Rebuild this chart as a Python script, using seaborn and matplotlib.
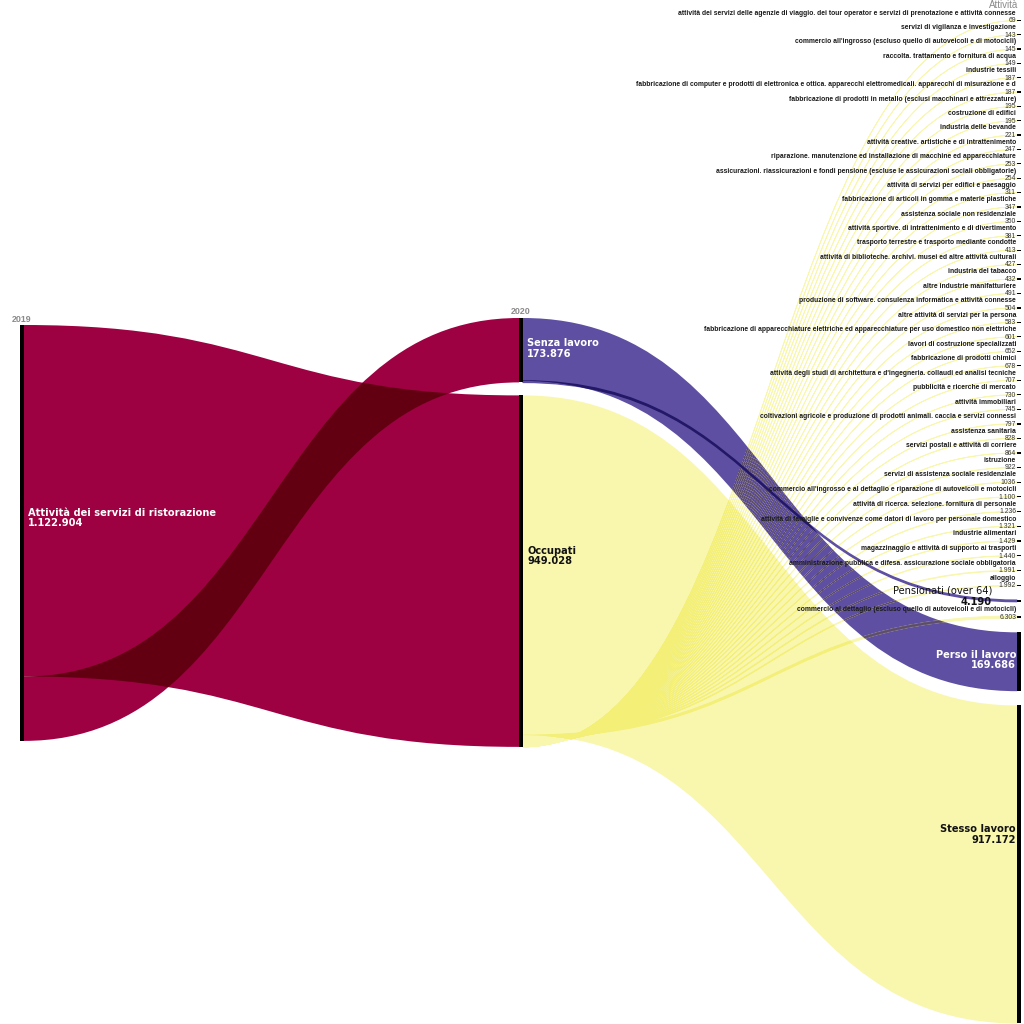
import numpy as np
import pandas as pd
import matplotlib
matplotlib.use("Agg")
import matplotlib.pyplot as plt
from matplotlib.path import Path
from matplotlib.patches import PathPatch, Rectangle
from matplotlib.colors import to_rgb
import seaborn as sns

# ------------------------------------------------------------------ data
dimension_labels = ["2019", "2020", "Attività"]

source_label = "Attività dei servizi di ristorazione"
source_value = 1122904
source_value_text = "1.122.904"

status_labels = ["Senza lavoro", "Occupati"]
status_values = [173876, 949028]
status_value_text = ["173.876", "949.028"]

activity_labels = [
    "attività dei servizi delle agenzie di viaggio. dei tour operator e servizi di prenotazione e attività connesse",
    "servizi di vigilanza e investigazione",
    "commercio all'ingrosso (escluso quello di autoveicoli e di motocicli)",
    "raccolta. trattamento e fornitura di acqua",
    "industrie tessili",
    "fabbricazione di computer e prodotti di elettronica e ottica. apparecchi elettromedicali. apparecchi di misurazione e d",
    "fabbricazione di prodotti in metallo (esclusi macchinari e attrezzature)",
    "costruzione di edifici",
    "industria delle bevande",
    "attività creative. artistiche e di intrattenimento",
    "riparazione. manutenzione ed installazione di macchine ed apparecchiature",
    "assicurazioni. riassicurazioni e fondi pensione (escluse le assicurazioni sociali obbligatorie)",
    "attività di servizi per edifici e paesaggio",
    "fabbricazione di articoli in gomma e materie plastiche",
    "assistenza sociale non residenziale",
    "attività sportive. di intrattenimento e di divertimento",
    "trasporto terrestre e trasporto mediante condotte",
    "attività di biblioteche. archivi. musei ed altre attività culturali",
    "industria del tabacco",
    "altre industrie manifatturiere",
    "produzione di software. consulenza informatica e attività connesse",
    "altre attività di servizi per la persona",
    "fabbricazione di apparecchiature elettriche ed apparecchiature per uso domestico non elettriche",
    "lavori di costruzione specializzati",
    "fabbricazione di prodotti chimici",
    "attività degli studi di architettura e d'ingegneria. collaudi ed analisi tecniche",
    "pubblicità e ricerche di mercato",
    "attività immobiliari",
    "coltivazioni agricole e produzione di prodotti animali. caccia e servizi connessi",
    "assistenza sanitaria",
    "servizi postali e attività di corriere",
    "istruzione",
    "servizi di assistenza sociale residenziale",
    "commercio all'ingrosso e al dettaglio e riparazione di autoveicoli e motocicli",
    "attività di ricerca. selezione. fornitura di personale",
    "attività di famiglie e convivenze come datori di lavoro per personale domestico",
    "industrie alimentari",
    "magazzinaggio e attività di supporto ai trasporti",
    "amministrazione pubblica e difesa. assicurazione sociale obbligatoria",
    "alloggio",
    "Pensionati (over 64)",
    "commercio al dettaglio (escluso quello di autoveicoli e di motocicli)",
    "Perso il lavoro",
    "Stesso lavoro",
]
activity_values = [
    69, 143, 145, 149, 187, 187, 195, 195, 221, 247, 253, 254, 311, 347, 350,
    381, 413, 427, 432, 491, 504, 583, 601, 652, 678, 707, 730, 745, 797, 828,
    864, 922, 1036, 1100, 1236, 1321, 1429, 1440, 1991, 1992, 4190, 6303,
    169686, 917172,
]
activity_value_text = [
    "69", "143", "145", "149", "187", "187", "195", "195", "221", "247", "253",
    "254", "311", "347", "350", "381", "413", "427", "432", "491", "504", "583",
    "601", "652", "678", "707", "730", "745", "797", "828", "864", "922", "1036",
    "1.100", "1.236", "1.321", "1.429", "1.440", "1.991", "1.992", "4.190",
    "6.303", "169.686", "917.172",
]
activity_status = ["Occupati"] * 40 + ["Senza lavoro", "Occupati", "Senza lavoro", "Occupati"]

acts = pd.DataFrame({"label": activity_labels, "value": activity_values,
                     "text": activity_value_text, "status": activity_status})

# ------------------------------------------------------------------ style
sns.set_theme(style="white")
spectral = sns.color_palette("Spectral", as_cmap=True)
C_SRC = spectral(0.0)          # crimson
C_SENZA = spectral(1.0)        # purple
C_OCC = "#f9f7ae"              # pale yellow
status_color = {"Senza lavoro": C_SENZA, "Occupati": C_OCC}


def mul(*cols):
    out = np.ones(3)
    for c in cols:
        out = out * np.array(to_rgb(c))
    return tuple(out)


W = H = 1024
fig = plt.figure(figsize=(10.24, 10.24), dpi=100)
ax = fig.add_axes([0, 0, 1, 1])
ax.set_xlim(0, W)
ax.set_ylim(H, 0)
ax.axis("off")

# ------------------------------------------------------------------ layout
BAR_W = 4.0
col_x = [20.0, 519.0, 1017.0]
scale12 = 2700.0          # people per unit (columns 1-2)
col1_top = 325.0
col2_top = 318.0
col2_gap = 13.0
scale3 = 2884.0
col3_top = 20.5
col3_gap = 14.27

# column 1
c1_y0 = col1_top
c1_y1 = col1_top + source_value / scale12

# column 2
c2 = {}
y = col2_top
for lab, v in zip(status_labels, status_values):
    c2[lab] = [y, y + v / scale12]
    y += v / scale12 + col2_gap

# column 3
c3 = []
y = col3_top
for v in acts["value"]:
    h = v / scale3
    c3.append([y, y + h])
    y += h + col3_gap
acts["y0"] = [a for a, b in c3]
acts["y1"] = [b for a, b in c3]


def ribbon(x0, a0, b0, x1, a1, b1):
    xm = (x0 + x1) / 2
    verts = [(x0, a0), (xm, a0), (xm, a1), (x1, a1), (x1, b1),
             (xm, b1), (xm, b0), (x0, b0), (x0, a0)]
    codes = [Path.MOVETO, Path.CURVE4, Path.CURVE4, Path.CURVE4, Path.LINETO,
             Path.CURVE4, Path.CURVE4, Path.CURVE4, Path.CLOSEPOLY]
    return Path(verts, codes)


def add(path, color, lw=0.0, clip=None, z=1):
    p = PathPatch(path, facecolor=color, edgecolor=color if lw else "none",
                  lw=lw, zorder=z)
    ax.add_patch(p)
    if clip is not None:
        p.set_clip_path(clip)
    return p

# ------------------------------------------------------------------ links 2019 -> 2020
order12 = ["Occupati", "Senza lavoro"]
y = c1_y0
paths12 = {}
for lab in order12:
    v = status_values[status_labels.index(lab)]
    h = v / scale12
    t0, t1 = c2[lab]
    paths12[lab] = ribbon(col_x[0] + BAR_W, y, y + h, col_x[1], t0, t1)
    y += h
pA = add(paths12["Occupati"], C_SRC)
pB = add(paths12["Senza lavoro"], C_SRC)
add(paths12["Senza lavoro"], mul(C_SRC, C_SRC), clip=pA, z=1.5)

# ------------------------------------------------------------------ links 2020 -> Attività
links = {}
for st in status_labels:
    sub = acts[acts["status"] == st].sort_values("value", ascending=False, kind="stable")
    y = c2[st][0]
    for idx, r in sub.iterrows():
        h = r["value"] / scale12
        links[idx] = ribbon(col_x[1] + BAR_W, y, y + h, col_x[2], r["y0"], r["y1"])
        y += h

i_stesso = activity_labels.index("Stesso lavoro")
i_perso = activity_labels.index("Perso il lavoro")
i_pens = activity_labels.index("Pensionati (over 64)")

p_stesso = add(links[i_stesso], C_OCC, z=2)
p_perso = add(links[i_perso], C_SENZA, z=2.1)
add(links[i_perso], mul(C_SENZA, C_OCC), clip=p_stesso, z=2.2)

for idx in links:
    if idx in (i_stesso, i_perso):
        continue
    col = status_color[acts.loc[idx, "status"]]
    pens = idx == i_pens
    lw = 1.0 if pens else 0.6
    zb = 3.4 if pens else 3.0
    add(links[idx], col, lw=lw, z=zb)
    add(links[idx], mul(col, C_OCC), lw=lw, clip=p_stesso, z=zb + 0.1)
    add(links[idx], mul(col, C_SENZA), lw=lw, clip=p_perso, z=zb + 0.2)

# ------------------------------------------------------------------ node bars
ax.add_patch(Rectangle((col_x[0], c1_y0), BAR_W, c1_y1 - c1_y0, color="black", lw=0, zorder=5))
for lab in status_labels:
    a, b = c2[lab]
    ax.add_patch(Rectangle((col_x[1], a), BAR_W, b - a, color="black", lw=0, zorder=5))
for _, r in acts.iterrows():
    h = max(r["y1"] - r["y0"], 1.3)
    yc = (r["y0"] + r["y1"]) / 2
    ax.add_patch(Rectangle((col_x[2], yc - h / 2), BAR_W, h, color="black", lw=0, zorder=5))

# ------------------------------------------------------------------ text
BIG = dict(family="DejaVu Sans", fontweight="bold", fontsize=7.1, linespacing=1.05)
HDR = dict(family="Liberation Sans", fontweight="bold", fontsize=6.4, color="#8a8a8a")

ax.text(col_x[0] + 2, col1_top - 1.5, dimension_labels[0], ha="center", va="bottom", **HDR)
ax.text(col_x[1] + 2, col2_top - 1.5, dimension_labels[1], ha="center", va="bottom", **HDR)
ax.text(col_x[2] + 1, 0.5, dimension_labels[2], ha="right", va="top",
        family="Liberation Sans", fontsize=7.0, color="#8a8a8a")

ax.text(col_x[0] + BAR_W + 4, (c1_y0 + c1_y1) / 2 - 15,
        f"{source_label}\n{source_value_text}", ha="left", va="center",
        color="white", zorder=6, **BIG)

status_offset = {"Senza lavoro": -1.5, "Occupati": -15}
status_tcolor = {"Senza lavoro": "white", "Occupati": "#111111"}
for lab, txt in zip(status_labels, status_value_text):
    a, b = c2[lab]
    ax.text(col_x[1] + BAR_W + 4, (a + b) / 2 + status_offset[lab], f"{lab}\n{txt}",
            ha="left", va="center", color=status_tcolor[lab], zorder=6, **BIG)

big_offset = {"Perso il lavoro": -2, "Stesso lavoro": -30}
big_tcolor = {"Perso il lavoro": "white", "Stesso lavoro": "#111111"}
xr = col_x[2] - 1
for _, r in acts.iterrows():
    yc = (r["y0"] + r["y1"]) / 2
    lab = r["label"]
    if lab in big_offset:
        ax.text(xr, yc + big_offset[lab], f"{lab}\n{r['text']}", ha="right", va="center",
                color=big_tcolor[lab], zorder=6, **BIG)
    elif lab == "Pensionati (over 64)":
        ax.text(xr - 24, yc - 10, lab, ha="right", va="center", family="DejaVu Sans",
                fontsize=7.1, color="#111111", zorder=6)
        ax.text(xr - 24, yc + 1, r["text"], ha="right", va="center", family="DejaVu Sans",
                fontweight="bold", fontsize=7.1, color="#111111", zorder=6)
    else:
        ax.text(xr, yc - 7.2, lab, ha="right", va="center", family="Liberation Sans",
                fontweight="bold", fontsize=4.9, color="#1a1a1a", zorder=6)
        ax.text(xr, yc + 0.3, r["text"], ha="right", va="center", family="Liberation Sans",
                fontsize=4.9, color="#333333", zorder=6)

fig.savefig("out.png", dpi=100, facecolor="white")
